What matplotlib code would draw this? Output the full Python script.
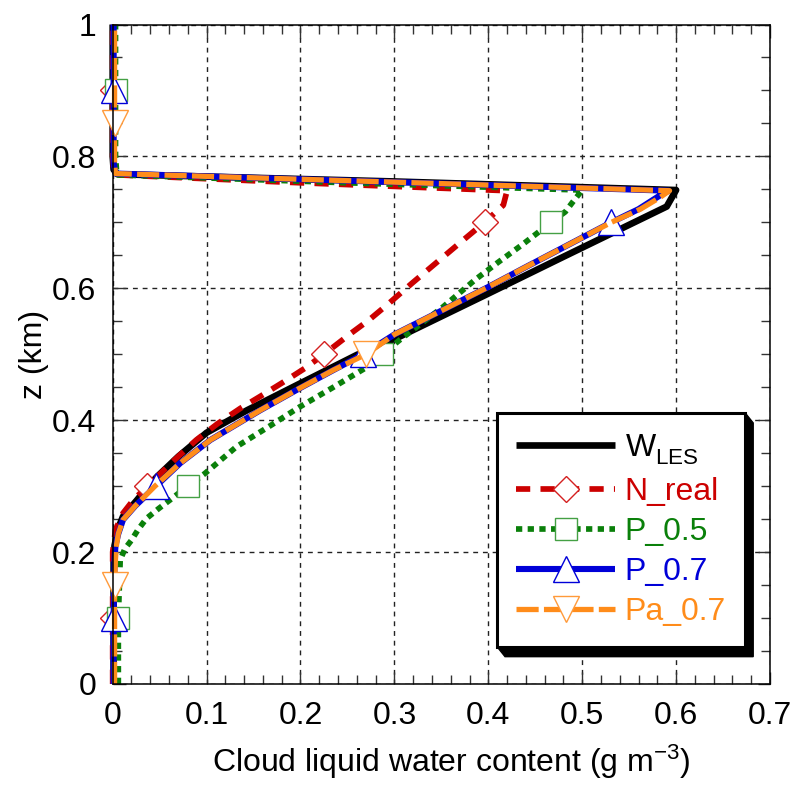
import numpy as np
import matplotlib
matplotlib.use('Agg')
import matplotlib.pyplot as plt
from matplotlib.lines import Line2D
from matplotlib.patches import Polygon
from matplotlib.transforms import IdentityTransform
from matplotlib.ticker import MultipleLocator

plt.rcParams['font.family'] = ['Liberation Sans', 'DejaVu Sans']
plt.rcParams['mathtext.fontset'] = 'custom'
plt.rcParams['mathtext.rm'] = 'Liberation Sans'
plt.rcParams['mathtext.it'] = 'Liberation Sans:italic'
plt.rcParams['mathtext.bf'] = 'Liberation Sans:bold'

# ---------------- data ----------------
xticks = [0, 0.1, 0.2, 0.3, 0.4, 0.5, 0.6, 0.7]
xticklabels = ['0', '0.1', '0.2', '0.3', '0.4', '0.5', '0.6', '0.7']
yticks = [0, 0.2, 0.4, 0.6, 0.8, 1.0]
yticklabels = ['0', '0.2', '0.4', '0.6', '0.8', '1']

wles_z = [0, 0.1, 0.19, 0.21, 0.223, 0.24, 0.254, 0.279, 0.3, 0.314, 0.345, 0.381,
          0.415, 0.456, 0.499, 0.527, 0.592, 0.645, 0.724, 0.749, 0.762, 0.773,
          0.78, 0.8, 0.9, 1.0]
wles_x = [0.001, 0.001, 0.001, 0.002, 0.004, 0.007, 0.011, 0.026, 0.038, 0.047, 0.07, 0.1,
          0.143, 0.2, 0.26, 0.306, 0.4, 0.476, 0.59, 0.6, 0.3, 0.005,
          0.001, 0.0, 0.0, 0.0]

nreal_z = [0, 0.1, 0.2, 0.234, 0.259, 0.279, 0.3, 0.34, 0.37, 0.395, 0.418, 0.436, 0.458,
           0.479, 0.5, 0.532, 0.552, 0.577, 0.608, 0.668, 0.7, 0.726, 0.748, 0.76,
           0.772, 0.78, 0.8, 0.9, 1.0]
nreal_x = [0, 0, 0, 0.003, 0.011, 0.022, 0.037, 0.066, 0.089, 0.112, 0.136, 0.157, 0.182,
           0.205, 0.225, 0.254, 0.273, 0.294, 0.319, 0.369, 0.396, 0.416, 0.42, 0.2,
           0.005, 0.001, 0.0, 0.0, 0.0]
nreal_mark_z = [0.1, 0.3, 0.5, 0.7, 0.9]

p05_z = [0, 0.1, 0.188, 0.205, 0.218, 0.234, 0.251, 0.266, 0.279, 0.3, 0.319, 0.36,
         0.39, 0.42, 0.45, 0.479, 0.5, 0.522, 0.572, 0.613, 0.64, 0.666, 0.7, 0.716,
         0.731, 0.749, 0.76, 0.772, 0.78, 0.8, 0.9, 1.0]
p05_x = [0.006, 0.006, 0.008, 0.013, 0.02, 0.027, 0.036, 0.049, 0.061, 0.08, 0.098, 0.132,
         0.166, 0.199, 0.235, 0.269, 0.287, 0.306, 0.352, 0.386, 0.411, 0.436, 0.467, 0.482,
         0.49, 0.5, 0.25, 0.006, 0.004, 0.003, 0.003, 0.003]
p05_mark_z = [0.1, 0.3, 0.5, 0.7, 0.9]

p07_z = [0, 0.1, 0.19, 0.21, 0.228, 0.249, 0.27, 0.3, 0.335, 0.37, 0.415, 0.446, 0.476,
         0.5, 0.53, 0.602, 0.63, 0.7, 0.72, 0.741, 0.748, 0.761, 0.774, 0.79, 0.9, 1.0]
p07_x = [0.001, 0.001, 0.002, 0.003, 0.006, 0.011, 0.024, 0.046, 0.072, 0.104, 0.157,
         0.196, 0.235, 0.267, 0.3, 0.4, 0.437, 0.531, 0.56, 0.583, 0.592, 0.3, 0.003,
         0.001, 0.001, 0.001]
p07_mark_z = [0.1, 0.3, 0.5, 0.7, 0.9]

pa07_z = [0, 0.15, 0.19, 0.21, 0.228, 0.249, 0.27, 0.3, 0.335, 0.37, 0.415, 0.446, 0.476,
          0.5, 0.53, 0.602, 0.63, 0.7, 0.72, 0.738, 0.748, 0.761, 0.774, 0.79, 0.85, 1.0]
pa07_x = [0.002, 0.002, 0.003, 0.004, 0.006, 0.011, 0.024, 0.045, 0.072, 0.104, 0.157,
          0.196, 0.235, 0.27, 0.3, 0.4, 0.437, 0.531, 0.562, 0.583, 0.593, 0.3, 0.003,
          0.002, 0.002, 0.002]
pa07_mark_z = [0.15, 0.5, 0.85]

labels = [r'W$^{\,}_{\mathrm{LES}}$', 'N_real', 'P_0.5', 'P_0.7', 'Pa_0.7']

# ---------------- style ----------------
c_black = '#000000'
c_red = '#cc0000'
c_green = '#0a800a'
c_blue = '#0000d8'
c_orange = '#ff8c1a'

fig = plt.figure(figsize=(7.93, 7.86), dpi=100)
ax = fig.add_axes([0.1421, 0.1298, 0.8289, 0.839])
ax.set_autoscale_on(False)

series = [
    dict(x=wles_x, z=wles_z, mz=None, color=c_black, lw=4.8, ls='-', marker=None,
         ms=0, mec=None),
    dict(x=nreal_x, z=nreal_z, mz=nreal_mark_z, color=c_red, lw=4.1, ls=(0, (2.5, 1.8)),
         marker='D', ms=13.5, mec='#d42020'),
    dict(x=p05_x, z=p05_z, mz=p05_mark_z, color=c_green, lw=4.1, ls=(0, (1.1, 0.95)),
         marker='s', ms=16.0, mec='#44a044'),
    dict(x=p07_x, z=p07_z, mz=p07_mark_z, color=c_blue, lw=4.4, ls='-',
         marker='^', ms=19.0, mec=c_blue),
    dict(x=pa07_x, z=pa07_z, mz=pa07_mark_z, color=c_orange, lw=3.8, ls=(0, (4.2, 1.0)),
         marker='v', ms=19.0, mec='#ff9a3a'),
]

handles = []
for s in series:
    ax.plot(s['x'], s['z'], color=s['color'], lw=s['lw'], ls=s['ls'],
            solid_capstyle='butt', dash_capstyle='butt', clip_on=False)
    if s['mz'] is not None:
        zz = np.asarray(s['z'])
        xx = np.asarray(s['x'])
        idx = [int(np.argmin(np.abs(zz - m))) for m in s['mz']]
        ax.plot(xx[idx], zz[idx], ls='none', marker=s['marker'], ms=s['ms'],
                mfc='white', mec=s['mec'], mew=1.0, clip_on=False)
    handles.append(Line2D([], [], color=s['color'], lw=s['lw'], ls=s['ls'],
                          dash_capstyle='butt', solid_capstyle='butt',
                          marker=s['marker'] if s['marker'] else None,
                          ms=s['ms'], mfc='white', mec=s['mec'], mew=1.0))

ax.set_xlim(0, 0.7)
ax.set_ylim(0, 1.0)
ax.set_xticks(xticks)
ax.set_xticklabels(xticklabels)
ax.set_yticks(yticks)
ax.set_yticklabels(yticklabels)
ax.xaxis.set_minor_locator(MultipleLocator(0.02))
ax.yaxis.set_minor_locator(MultipleLocator(0.05))
ax.tick_params(which='both', direction='in', top=True, right=True, labelsize=23,
               color='#333333', width=1.0)
ax.tick_params(which='major', length=9, pad=12)
ax.tick_params(which='minor', length=6.5)
ax.grid(True, which='major', color='#222222', lw=1.0, ls=(0, (3.5, 3.5)))
for sp in ax.spines.values():
    sp.set_linewidth(1.1)
    sp.set_color('black')

ax.set_xlabel('Cloud liquid water content (g m$^{-3}$)', fontsize=23, labelpad=9)
ax.xaxis.label.set_x(0.515)
ax.set_ylabel('z (km)', fontsize=23, labelpad=2)

leg = ax.legend(handles, labels, loc='upper left', bbox_to_anchor=(0.5847, 0.411),
                borderaxespad=0, fontsize=23, handlelength=3.1, handletextpad=0.3,
                borderpad=0.6, labelspacing=0.32, fancybox=False, framealpha=1,
                edgecolor='black', numpoints=1)
leg.get_frame().set_linewidth(2.2)
cols = [c_black, c_red, c_green, c_blue, c_orange]
for t, c in zip(leg.get_texts(), cols):
    t.set_color(c)

fig.canvas.draw()
bb = leg.get_window_extent(fig.canvas.get_renderer())
dx, dy = 8, 10
x0, y0, x1, y1 = bb.x0, bb.y0, bb.x1, bb.y1
shadow = Polygon([(x0, y0), (x0 + dx, y0 - dy), (x1 + dx, y0 - dy), (x1 + dx, y1 - dy),
                  (x1, y1), (x1, y0)], closed=True, facecolor='black', edgecolor='black',
                 transform=IdentityTransform(), zorder=leg.get_zorder() - 0.1, clip_on=False)
ax.add_patch(shadow)

fig.savefig('out.png', dpi=100)
